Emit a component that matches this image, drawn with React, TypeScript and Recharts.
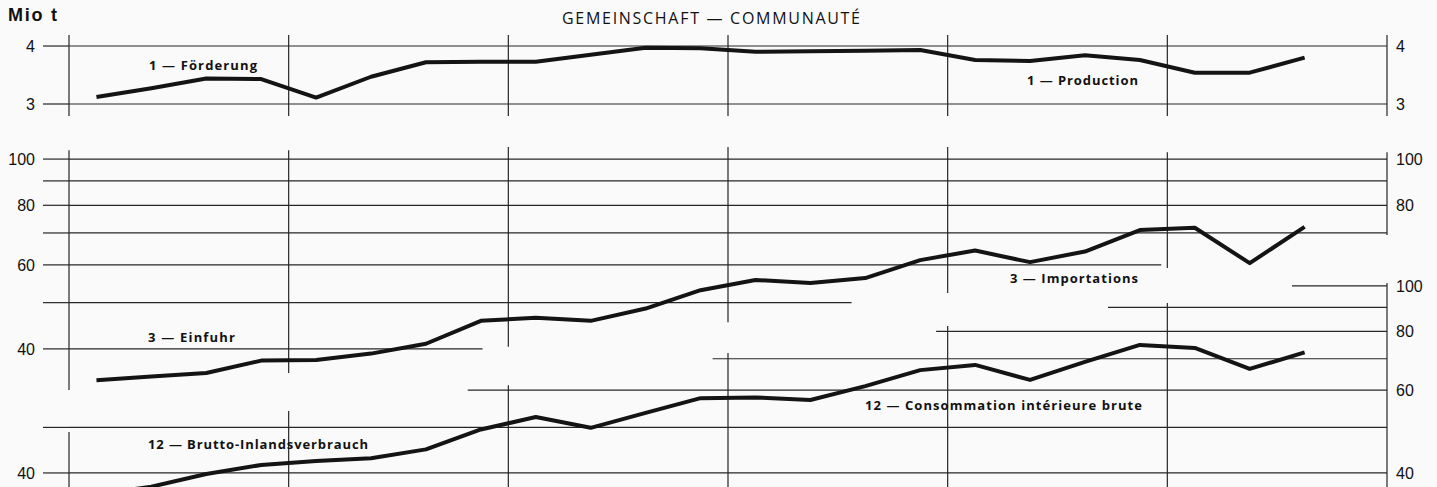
import React from 'react';
import { LineChart, Line, XAxis, YAxis, ReferenceLine } from 'recharts';

// ---- data (quarterly, 23 quarters across 6 yearly divisions) ----
const quarterPos = [0.5, 1.5, 2.5, 3.5, 4.5, 5.5, 6.5, 7.5, 8.5, 9.5, 10.5, 11.5, 12.5, 13.5, 14.5, 15.5, 16.5, 17.5, 18.5, 19.5, 20.5, 21.5, 22.5];
const production = [3.12, 3.27, 3.44, 3.43, 3.11, 3.47, 3.72, 3.73, 3.73, 3.85, 3.97, 3.96, 3.9, 3.91, 3.92, 3.93, 3.76, 3.74, 3.84, 3.76, 3.54, 3.54, 3.8];
const imports = [34.4, 35.0, 35.6, 37.8, 37.9, 39.1, 41.0, 45.8, 46.5, 45.8, 48.6, 53.1, 55.8, 55.0, 56.3, 61.4, 64.3, 60.8, 64.0, 71.0, 71.8, 60.5, 72.1];
const consumption = [36.0, 37.4, 39.8, 41.6, 42.4, 43.0, 44.9, 49.5, 52.6, 49.9, 53.7, 57.7, 57.9, 57.2, 61.2, 66.2, 67.9, 63.1, 68.9, 74.9, 73.8, 66.6, 72.2];

// ---- axis extents, ticks / labels ----
const prodDomain = [2.793, 4.19];
const importDomain = [32.8, 106];
const consDomain = [28.8, 105.5];
const yearLines = [0, 4, 8, 12, 16, 20, 24];
const prodTicks = [3, 4];
const logTicks = [40, 50, 60, 70, 80, 90, 100];
const importLeftLabels = [40, 60, 80, 100];
const importRightTicks = [70, 80, 90, 100];
const importRightLabels = [80, 100];
const consLeftTicks = [40, 50];
const consLeftLabels = [40];
const consRightLabels = [40, 60, 80, 100];

// ---- grid extents (data units) ----
const importHGrid = [
  { v: 100, to: 24 }, { v: 90, to: 24 }, { v: 80, to: 24 }, { v: 70, to: 24 },
  { v: 60, to: 19.89 }, { v: 50, to: 14.25 }, { v: 40, to: 7.53 },
];
const importVGrid = [
  { x: 0, top: 104.4, bottom: 32.8 }, { x: 4, top: 104.4, bottom: 35.6 },
  { x: 8, top: 106, bottom: 40.4 }, { x: 12, top: 106, bottom: 45.5 },
  { x: 16, top: 106, bottom: 52.4 }, { x: 20, top: 103.4, bottom: 59.1 },
  { x: 24, top: 103.4, bottom: 69.3 },
];
const consHGrid = [
  { v: 100, from: 22.27 }, { v: 90, from: 18.92 }, { v: 80, from: 15.79 },
  { v: 70, from: 11.72 }, { v: 60, from: 7.26 }, { v: 50, from: 0 }, { v: 40, from: 0 },
];
const consVGrid = [
  { x: 0, top: 48.9 }, { x: 4, top: 54.2 }, { x: 8, top: 61.5 }, { x: 12, top: 72.0 },
  { x: 16, top: 82.2 }, { x: 20, top: 92.0 }, { x: 24, top: 101.5 },
];
const consBottom = 28.8;

const rows = quarterPos.map((t, i) => ({ t, prod: production[i], imp: imports[i], cons: consumption[i] }));

const W = 1437;
const INK = '#141414';
const GRID = '#262626';
const tickStyle = { fontSize: 16, fill: '#111', fontFamily: '"Liberation Sans", Arial, sans-serif' };
const fmt = (labels: number[]) => (v: number) => (labels.includes(v) ? String(v) : '');
const labelFont = '"Open Sans", "DejaVu Sans", sans-serif';

const layer: React.CSSProperties = { position: 'absolute', left: 0, top: 0 };

function Panel({ height, top, bottom, domain, scale, leftTicks, leftLabels, rightTicks, rightLabels, children }: any) {
  return (
    <div style={layer}>
      <LineChart width={W} height={height} data={rows} margin={{ top, right: 0, bottom, left: 0 }}>
        <XAxis dataKey="t" type="number" domain={[0, 24]} hide allowDataOverflow />
        <YAxis yAxisId="l" orientation="left" width={69} scale={scale} domain={domain} ticks={leftTicks}
          interval={0} allowDataOverflow axisLine={false}
          tickLine={{ stroke: GRID, strokeWidth: 1.2 }} tickSize={26} tickMargin={8}
          tick={tickStyle} tickFormatter={fmt(leftLabels)} />
        <YAxis yAxisId="r" orientation="right" width={50} scale={scale} domain={domain} ticks={rightTicks}
          interval={0} allowDataOverflow axisLine={false} tickLine={false}
          tickSize={4} tickMargin={5} tick={tickStyle} tickFormatter={fmt(rightLabels)} />
        {children}
      </LineChart>
    </div>
  );
}

export default function App() {
  return (
    <div style={{ position: 'absolute', left: 0, top: 0, width: W, height: 487, overflow: 'hidden', background: '#fafafa' }}>
      {/* Production */}
      <Panel height={130} top={35} bottom={14} domain={prodDomain} scale="linear"
        leftTicks={prodTicks} leftLabels={prodTicks} rightTicks={prodTicks} rightLabels={prodTicks}>
        {yearLines.map((x) => (
          <ReferenceLine key={'pv' + x} yAxisId="l" x={x} stroke={GRID} strokeWidth={1.2} ifOverflow="visible" />
        ))}
        {prodTicks.map((v) => (
          <ReferenceLine key={'ph' + v} yAxisId="l" y={v} stroke={GRID} strokeWidth={1.2} ifOverflow="visible" />
        ))}
        <Line yAxisId="l" dataKey="prod" stroke={INK} strokeWidth={4} dot={false} isAnimationActive={false} strokeLinejoin="round" />
      </Panel>

      {/* Imports */}
      <Panel height={487} top={147} bottom={97} domain={importDomain} scale="log"
        leftTicks={logTicks} leftLabels={importLeftLabels} rightTicks={importRightTicks} rightLabels={importRightLabels}>
        {importVGrid.map((g) => (
          <ReferenceLine key={'iv' + g.x} yAxisId="l" segment={[{ x: g.x, y: g.top }, { x: g.x, y: g.bottom }]}
            stroke={GRID} strokeWidth={1.2} ifOverflow="visible" />
        ))}
        {importHGrid.map((g) => (
          <ReferenceLine key={'ih' + g.v} yAxisId="l" segment={[{ x: 0, y: g.v }, { x: g.to, y: g.v }]}
            stroke={GRID} strokeWidth={1.2} ifOverflow="visible" />
        ))}
        <Line yAxisId="l" dataKey="imp" stroke={INK} strokeWidth={4} dot={false} isAnimationActive={false} strokeLinejoin="round" />
      </Panel>

      {/* Consumption */}
      <Panel height={540} top={275} bottom={0} domain={consDomain} scale="log"
        leftTicks={consLeftTicks} leftLabels={consLeftLabels} rightTicks={logTicks} rightLabels={consRightLabels}>
        {consVGrid.map((g) => (
          <ReferenceLine key={'cv' + g.x} yAxisId="l" segment={[{ x: g.x, y: g.top }, { x: g.x, y: consBottom }]}
            stroke={GRID} strokeWidth={1.2} ifOverflow="visible" />
        ))}
        {consHGrid.map((g) => (
          <ReferenceLine key={'ch' + g.v} yAxisId="l" segment={[{ x: g.from, y: g.v }, { x: 24, y: g.v }]}
            stroke={GRID} strokeWidth={1.2} ifOverflow="visible" />
        ))}
        <Line yAxisId="l" dataKey="cons" stroke={INK} strokeWidth={4} dot={false} isAnimationActive={false} strokeLinejoin="round" />
      </Panel>

      {/* Texts */}
      <svg width={W} height={487} style={{ ...layer, pointerEvents: 'none' }}>
        <text x={8} y={15} dominantBaseline="central" fontFamily='"Liberation Sans", Arial, sans-serif' fontWeight={700} fontSize={18} fill="#111" textLength={49} lengthAdjust="spacing">Mio t</text>
        <text x={562} y={18} dominantBaseline="central" fontFamily={labelFont} fontSize={16} fill="#111" textLength={298} lengthAdjust="spacing">GEMEINSCHAFT — COMMUNAUTÉ</text>
        <g fontFamily={labelFont} fontWeight={700} fontSize={13} fill="#111">
          <text x={149} y={65} dominantBaseline="central" textLength={108} lengthAdjust="spacing">1 — Förderung</text>
          <text x={1027} y={80} dominantBaseline="central" textLength={111} lengthAdjust="spacing">1 — Production</text>
          <text x={1010} y={278} dominantBaseline="central" textLength={128} lengthAdjust="spacing">3 — Importations</text>
          <text x={148} y={337} dominantBaseline="central" textLength={87} lengthAdjust="spacing">3 — Einfuhr</text>
          <text x={148} y={444} dominantBaseline="central" textLength={220} lengthAdjust="spacing">12 — Brutto-Inlandsverbrauch</text>
          <text x={865} y={405} dominantBaseline="central" textLength={277} lengthAdjust="spacing">12 — Consommation intérieure brute</text>
        </g>
      </svg>
    </div>
  );
}
